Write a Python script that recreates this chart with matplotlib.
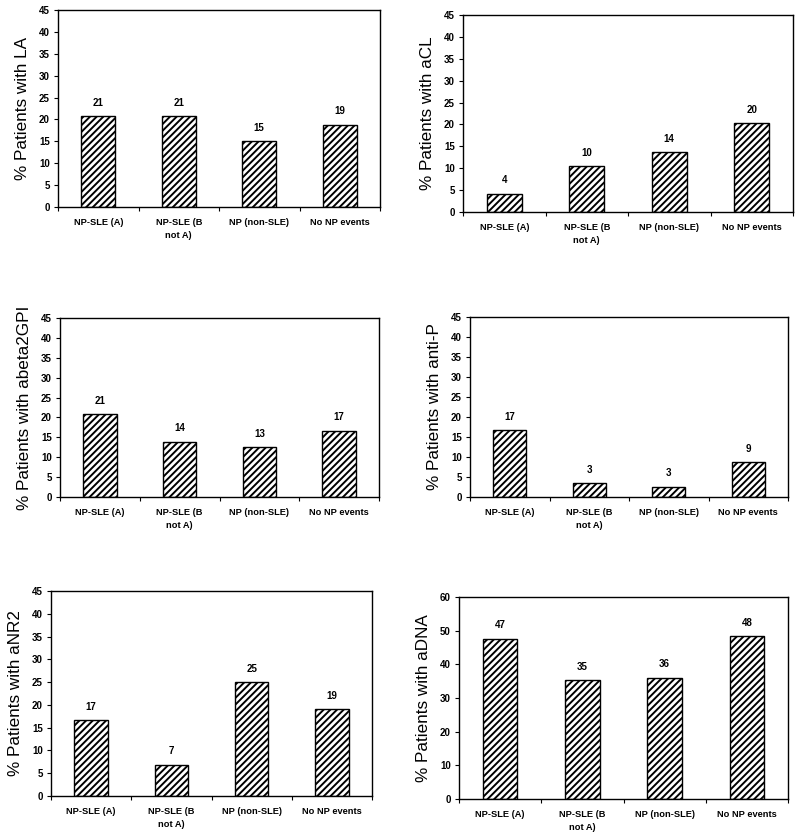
import matplotlib
matplotlib.use("Agg")
import matplotlib.pyplot as plt

plt.rcParams['font.family'] = ['Liberation Sans', 'DejaVu Sans']
plt.rcParams['hatch.linewidth'] = 1.4

groups = ["NP-SLE (A)", "NP-SLE (B\nnot A)", "NP (non-SLE)", "No NP events"]

la_vals = [20.8, 20.8, 15.0, 18.8]
la_labels = [21, 21, 15, 19]
acl_vals = [4.2, 10.5, 13.7, 20.3]
acl_labels = [4, 10, 14, 20]
ab2_vals = [20.8, 13.9, 12.5, 16.7]
ab2_labels = [21, 14, 13, 17]
antip_vals = [16.7, 3.5, 2.6, 8.7]
antip_labels = [17, 3, 3, 9]
anr2_vals = [16.7, 6.9, 25.0, 19.0]
anr2_labels = [17, 7, 25, 19]
adna_vals = [47.6, 35.3, 36.0, 48.3]
adna_labels = [47, 35, 36, 48]

W, H = 800, 839
fig = plt.figure(figsize=(W / 100, H / 100), dpi=100)

# (left, top, right, bottom) in pixels, ylabel, values, labels, ymax, ystep
panels = [
    ((58, 10, 380, 207), "LA", la_vals, la_labels, 45, 5),
    ((463, 15, 793, 212), "aCL", acl_vals, acl_labels, 45, 5),
    ((60, 318, 379, 497), "abeta2GPI", ab2_vals, ab2_labels, 45, 5),
    ((470, 317, 788, 497), "anti-P", antip_vals, antip_labels, 45, 5),
    ((51, 591, 372, 796), "aNR2", anr2_vals, anr2_labels, 45, 5),
    ((459, 597, 788, 799), "aDNA", adna_vals, adna_labels, 60, 10),
]

x = list(range(len(groups)))

for (l, t, r, b), name, vals, labs, ymax, ystep in panels:
    ax = fig.add_axes([l / W, 1 - b / H, (r - l) / W, (b - t) / H])
    ax.bar(x, vals, width=0.42, color="white", edgecolor="black",
           linewidth=1.0, hatch="/////")
    for xi, v, lab in zip(x, vals, labs):
        ax.annotate(str(lab), (xi, v), xytext=(0, 6), textcoords="offset points",
                    ha="center", va="bottom", fontsize=7, fontweight="bold")
    ax.set_xlim(-0.5, 3.5)
    ax.set_ylim(0, ymax)
    ax.set_yticks(range(0, ymax + 1, ystep))
    ax.set_xticks(x)
    ax.set_xticklabels(groups, fontsize=6.7, fontweight="bold", linespacing=1.6)
    ax.set_xticks([i - 0.5 for i in range(len(groups) + 1)], minor=True)
    ax.tick_params(axis="x", which="major", length=0, pad=8)
    ax.tick_params(axis="x", which="minor", length=3, width=0.8, direction="out")
    ax.tick_params(axis="y", length=3, width=0.8, direction="out", pad=3,
                   labelsize=7)
    for lbl in ax.get_yticklabels():
        lbl.set_fontweight("bold")
    for s in ax.spines.values():
        s.set_linewidth(1.0)
    ax.set_ylabel("% Patients with " + name, fontsize=12.3, labelpad=6)

plt.savefig("out.png", dpi=100)
print("Done")
